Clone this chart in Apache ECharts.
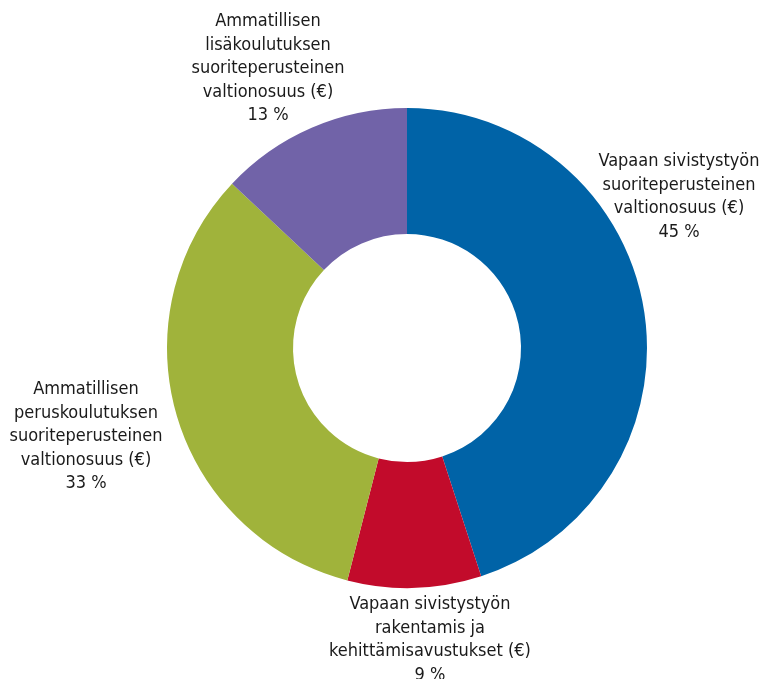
<!DOCTYPE html>
<html>
<head>
<meta charset="utf-8">
<script src="https://cdn.jsdelivr.net/npm/echarts@6/dist/echarts.min.js"></script>
<style>
  html, body { margin: 0; padding: 0; background: #fff; }
  #chart { width: 760px; height: 679px; }
</style>
</head>
<body>
<div id="chart"></div>
<script>
// 数据
const categories = [
  'Vapaan sivistystyön\nsuoriteperusteinen\nvaltionosuus (€)',
  'Vapaan sivistystyön\nrakentamis ja\nkehittämisavustukset (€)',
  'Ammatillisen\nperuskoulutuksen\nsuoriteperusteinen\nvaltionosuus (€)',
  'Ammatillisen\nlisäkoulutuksen\nsuoriteperusteinen\nvaltionosuus (€)'
]
const shares = [45, 9, 33, 13]
const colors = ['#0063a7', '#c20b2b', '#a0b33b', '#7163a8']

// 标签位置 (中心 x, 顶部 y)
const labelPos = [
  [679, 150],
  [430, 593],
  [86, 378],
  [268, 10]
]

const chart = echarts.init(document.getElementById('chart'))

chart.setOption({
  animation: false,
  series: [
    {
      type: 'pie',
      center: [407, 348],
      radius: [114, 240],
      startAngle: 90,
      clockwise: true,
      label: {
        show: true,
        position: 'outside',
        overflow: 'none',
        fontFamily: '"DejaVu Sans Condensed", "Liberation Sans Narrow", sans-serif',
        fontSize: 18,
        lineHeight: 23.5,
        color: '#1a1a1a',
        align: 'center',
        formatter: p => p.name + '\n' + p.value + ' %'
      },
      labelLine: { show: false },
      labelLayout: params => ({
        x: labelPos[params.dataIndex][0],
        y: labelPos[params.dataIndex][1],
        align: 'center',
        verticalAlign: 'top',
        width: 260
      }),
      itemStyle: { borderWidth: 0 },
      data: categories.map((name, i) => ({
        name: name,
        value: shares[i],
        itemStyle: { color: colors[i] }
      }))
    }
  ]
})
</script>
</body>
</html>
